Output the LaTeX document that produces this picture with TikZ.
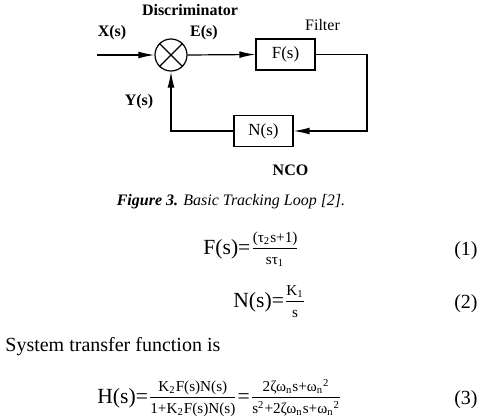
\documentclass[tikz,border=0pt]{standalone}
\usepackage{fontspec}
\setmainfont{Liberation Serif}
\usetikzlibrary{arrows.meta,positioning,calc}
\newcommand{\fracsz}{\fontsize{7.6}{9}\selectfont}
\newcommand{\eqsz}{\fontsize{10.8}{12}\selectfont}
\newcommand{\smallfrac}[2]{$\frac{\mbox{\fracsz\rule[-2.2pt]{0pt}{1pt}#1}}{\mbox{\fracsz\rule{0pt}{7.5pt}#2}}$}

\begin{document}
\begin{tikzpicture}[
  x=0.5pt, y=-0.5pt,
  blk/.style={rectangle, draw, line width=0.6pt, minimum width=29.5pt, minimum height=15.5pt,
              inner sep=0pt, font=\fontsize{8.5}{10}\selectfont},
  sum/.style={circle, draw, line width=0.6pt, minimum size=16pt, inner sep=0pt},
  wire/.style={line width=0.6pt},
  sig/.style={-{Latex[length=8pt,width=3.4pt]}, line width=0.6pt},
  lbl/.style={font=\fontsize{8}{9.6}\selectfont\bfseries},
  plain/.style={font=\fontsize{8}{9.6}\selectfont},
  eqn/.style={anchor=base west, inner sep=0pt, font=\eqsz},
  eqno/.style={anchor=base east, inner sep=0pt, font=\fontsize{10}{12}\selectfont},
]
\useasboundingbox (0,0) rectangle (484,418);

% ---------- the loop
\node[sum] (disc) at (171,55) {};
\draw[wire] (disc.north west) -- (disc.south east);
\draw[wire] (disc.north east) -- (disc.south west);
\node[blk] (filt) at (285.5,54.5) {F(s)};
\node[blk] (nco)  at (263.5,131)  {N(s)};
\coordinate (xin)  at (97,55);
\coordinate (turn) at (367,131);

\draw[sig] (xin) -- (disc.west);
\draw[sig] (disc.east) -- (filt.west);
\draw[sig] (filt.east) -| (turn) -- (nco.east);
\draw[sig] (nco.west) -| (disc.south);

% ---------- labels
\node[lbl]   (ldisc) at (190,10)    {Discriminator};
\node[lbl]   (lx)    at (112,33)    {X(s)};
\node[lbl]   (le)    at (204,33)    {E(s)};
\node[lbl]   (ly)    at (139,102)   {Y(s)};
\node[plain] (lfilt) at (322.5,25)  {Filter};
\node[lbl]   (lnco)  at (290.5,170) {NCO};

% ---------- caption
\node[plain] (cap) at (231,202)
  {{\bfseries\itshape Figure 3.} {\itshape Basic Tracking Loop [2].}};

% ---------- equations
\node[eqn] (eq1) at (203,254)
  {F(s)=\smallfrac{(τ\textsubscript{2}s+1)}{sτ\textsubscript{1}}};
\node[eqno] (n1) at (478,255) {(1)};
\node[eqn] (eq2) at (233,307)
  {N(s)=\smallfrac{K\textsubscript{1}}{s}};
\node[eqno] (n2) at (478,308) {(2)};
\node[anchor=west, inner sep=0pt, font=\fontsize{10}{12}\selectfont] (txt) at (5,347)
  {System transfer function is};
\node[eqn] (eq3) at (97,403)
  {H(s)=\smallfrac{K\textsubscript{2}F(s)N(s)}{1+K\textsubscript{2}F(s)N(s)}=\smallfrac{2ζω\textsubscript{n}s+ω\textsubscript{n}\textsuperscript{2}}{s\textsuperscript{2}+2ζω\textsubscript{n}s+ω\textsubscript{n}\textsuperscript{2}}};
\node[eqno] (n3) at (478,404) {(3)};
\end{tikzpicture}
\end{document}
